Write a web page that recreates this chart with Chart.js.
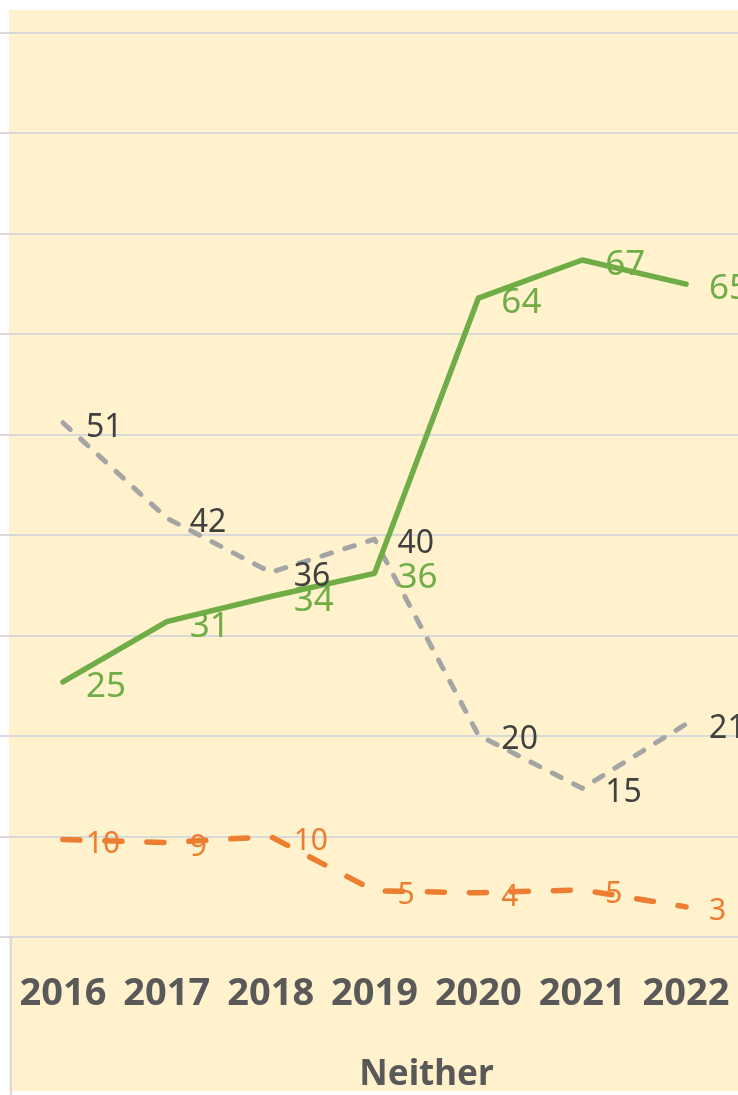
<!DOCTYPE html>
<html lang="en">
<head>
    <meta charset="UTF-8">
    <title>Neither</title>
    <script src="https://cdn.jsdelivr.net/npm/chart.js"></script>
    <style>
        body {
            margin: 0;
            padding: 0;
            background: #fff;
        }
        #wrap {
            width: 738px;
            height: 1095px;
        }
    </style>
</head>
<body>
    <div id="wrap">
        <canvas id="chart" width="738" height="1095"></canvas>
    </div>

    <script>
        // Values
        const years = ['2016', '2017', '2018', '2019', '2020', '2021', '2022'];
        const greenSeries = [25.4, 31.4, 33.9, 36.2, 63.6, 67.4, 65.0];
        const greySeries = [51.2, 41.7, 36.3, 39.6, 20.1, 14.8, 21.2];
        const orangeSeries = [9.7, 9.4, 10.0, 4.6, 4.4, 4.7, 3.0];
        const axisTitle = 'Neither';

        const GREEN = '#70AD47';
        const GREY = '#A5A5A5';
        const ORANGE = '#ED7D31';
        const FONT = "'Noto Sans', 'Open Sans', sans-serif";

        // cream panel behind the plot
        const panelBg = {
            id: 'panelBg',
            beforeDraw(chart) {
                const ctx = chart.ctx;
                ctx.save();
                ctx.fillStyle = '#FFF2CC';
                ctx.fillRect(9, 10, chart.width - 9, 1081);
                ctx.restore();
            }
        };

        // divider below the axis, axis title, value labels
        const extras = {
            id: 'extras',
            afterDraw(chart) {
                const ctx = chart.ctx;
                const area = chart.chartArea;
                ctx.save();
                ctx.strokeStyle = '#D9D9D9';
                ctx.lineWidth = 2;
                ctx.beginPath();
                ctx.moveTo(area.left, area.bottom);
                ctx.lineTo(area.left, chart.height);
                ctx.stroke();

                const xs = chart.scales.x;
                ctx.fillStyle = '#595959';
                ctx.font = 'bold 35px ' + FONT;
                ctx.textAlign = 'center';
                ctx.textBaseline = 'middle';
                ctx.fillText(axisTitle, xs.getPixelForValue(3.5), 1075);
                ctx.restore();
            },
            afterDatasetsDraw(chart) {
                const ctx = chart.ctx;
                ctx.save();
                ctx.textAlign = 'left';
                ctx.textBaseline = 'middle';
                chart.data.datasets.forEach((ds, i) => {
                    const meta = chart.getDatasetMeta(i);
                    ctx.fillStyle = ds.labelColor;
                    ctx.font = ds.labelSize + 'px ' + FONT;
                    meta.data.forEach((pt, j) => {
                        ctx.fillText(String(Math.round(ds.data[j])), pt.x + 23, pt.y + 5);
                    });
                });
                ctx.restore();
            }
        };

        new Chart(document.getElementById('chart'), {
            type: 'line',
            data: {
                labels: years,
                datasets: [
                    {
                        data: greenSeries,
                        borderColor: GREEN,
                        borderWidth: 5.5,
                        labelColor: GREEN,
                        labelSize: 35
                    },
                    {
                        data: greySeries,
                        borderColor: GREY,
                        borderWidth: 5,
                        borderDash: [10, 14],
                        labelColor: '#404040',
                        labelSize: 32
                    },
                    {
                        data: orangeSeries,
                        borderColor: ORANGE,
                        borderWidth: 5.5,
                        borderDash: [17, 25],
                        labelColor: ORANGE,
                        labelSize: 30
                    }
                ]
            },
            options: {
                responsive: false,
                animation: false,
                layout: { padding: { top: 33, left: 0, right: 0, bottom: 0 } },
                elements: {
                    point: { radius: 0 },
                    line: {
                        tension: 0,
                        fill: false,
                        borderCapStyle: 'round',
                        borderJoinStyle: 'round'
                    }
                },
                plugins: {
                    legend: { display: false },
                    tooltip: { enabled: false }
                },
                scales: {
                    x: {
                        offset: true,
                        grid: { display: false },
                        border: { display: false },
                        ticks: {
                            color: '#595959',
                            padding: 26,
                            maxRotation: 0,
                            font: { family: FONT, size: 38, weight: 'bold' }
                        },
                        afterFit(scale) {
                            scale.height = 158;
                            scale.paddingLeft = 0;
                            scale.paddingRight = 0;
                        }
                    },
                    y: {
                        min: 0,
                        max: 90,
                        ticks: { display: false, stepSize: 10 },
                        grid: {
                            color: '#D9D9D9',
                            lineWidth: 2,
                            drawTicks: true,
                            tickLength: 11
                        },
                        border: { display: false },
                        afterFit(scale) {
                            scale.width = 11;
                            scale.paddingTop = 0;
                            scale.paddingBottom = 0;
                        }
                    }
                }
            },
            plugins: [panelBg, extras]
        });
    </script>
</body>
</html>
